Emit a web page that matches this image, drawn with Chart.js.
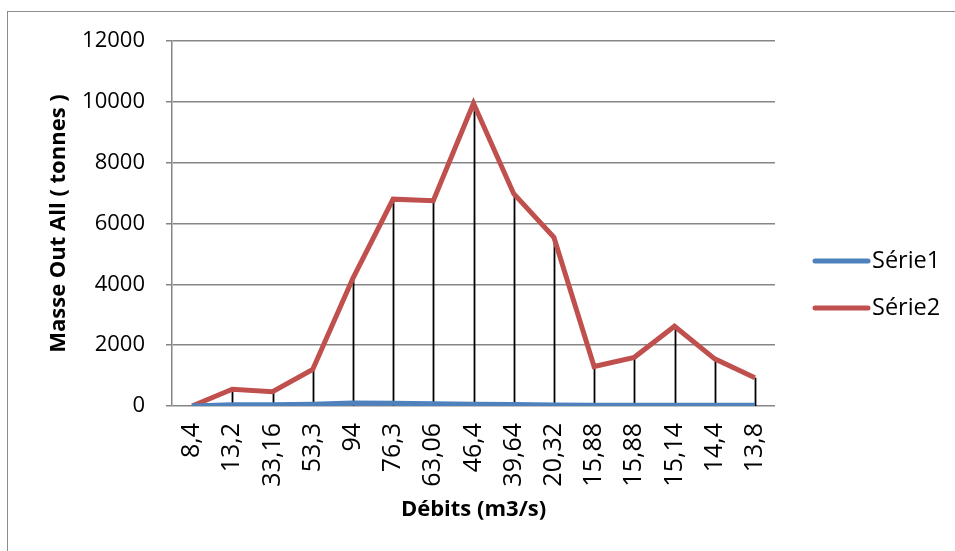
<!DOCTYPE html>
<html>
<head>
<meta charset="utf-8">
<script src="https://cdn.jsdelivr.net/npm/chart.js@4.4.1/dist/chart.umd.min.js"></script>
<style>
  html, body { margin: 0; padding: 0; background: #fff; }
  #wrap { position: relative; width: 955px; height: 551px; overflow: hidden; }
  #frame { position: absolute; left: 7px; top: 11px; width: 1100px; height: 700px; border: 1.5px solid #8c8c8c; box-sizing: border-box; }
  #mainChart { position: absolute; left: 0; top: 0; }
</style>
</head>
<body>
<div id="wrap">
  <div id="frame"></div>
  <canvas id="mainChart" width="955" height="551"></canvas>
</div>
<script>
const categories = ['8,4', '13,2', '33,16', '53,3', '94', '76,3', '63,06', '46,4', '39,64', '20,32', '15,88', '15,88', '15,14', '14,4', '13,8'];
const serie1 = [0, 40, 40, 60, 100, 90, 70, 60, 50, 30, 25, 25, 25, 25, 25];
const serie2 = [0, 550, 470, 1200, 4200, 6800, 6750, 9950, 6980, 5550, 1300, 1600, 2620, 1550, 930];
const seriesNames = ['Série1', 'Série2'];
const seriesColors = ['#4F81BD', '#C0504D'];
const yTitle = 'Masse Out All ( tonnes )';
const xTitle = 'Débits (m3/s)';

const FONT = "'Open Sans', 'Liberation Sans', sans-serif";

// Excel-style drop lines: from the highest point of each category down to the axis
const dropLines = {
    id: 'dropLines',
    beforeDatasetsDraw(chart) {
        const { ctx, scales: { x, y } } = chart;
        ctx.save();
        ctx.strokeStyle = '#000';
        ctx.lineWidth = 1.8;
        categories.forEach((c, i) => {
            const top = Math.max(serie1[i], serie2[i]);
            if (top <= 0) return;
            const px = Math.round(x.getPixelForValue(i)) + 0.5;
            ctx.beginPath();
            ctx.moveTo(px, y.getPixelForValue(top));
            ctx.lineTo(px, y.getPixelForValue(0));
            ctx.stroke();
        });
        ctx.restore();
    }
};

// Legend on the right, drawn like Excel's line samples
const sideLegend = {
    id: 'sideLegend',
    afterDraw(chart) {
        const ctx = chart.ctx;
        ctx.save();
        chart.data.datasets.forEach((ds, i) => {
            const yy = 261 + i * 47;
            ctx.strokeStyle = ds.borderColor;
            ctx.lineWidth = 5;
            ctx.lineCap = 'round';
            ctx.beginPath();
            ctx.moveTo(815, yy);
            ctx.lineTo(868, yy);
            ctx.stroke();
            ctx.fillStyle = '#000';
            ctx.font = `23.5px ${FONT}`;
            ctx.textBaseline = 'middle';
            ctx.fillText(ds.label, 872, yy);
        });
        ctx.restore();
    }
};

const ctx = document.getElementById('mainChart').getContext('2d');
new Chart(ctx, {
    type: 'line',
    data: {
        labels: categories,
        datasets: [serie1, serie2].map((d, i) => ({
            label: seriesNames[i],
            data: d,
            borderColor: seriesColors[i],
            backgroundColor: seriesColors[i],
            borderWidth: 5,
            pointRadius: 0,
            tension: 0,
            fill: false
        }))
    },
    options: {
        responsive: false,
        animation: false,
        layout: { padding: { top: 41, right: 180, bottom: 0, left: 0 } },
        plugins: {
            legend: { display: false },
            tooltip: { enabled: false }
        },
        scales: {
            x: {
                offset: true,
                grid: { display: false, drawTicks: false },
                border: { display: false },
                ticks: {
                    color: '#000',
                    font: { family: FONT, size: 25 },
                    minRotation: 90,
                    maxRotation: 90,
                    autoSkip: false,
                    padding: 17
                },
                title: {
                    display: true,
                    text: xTitle,
                    color: '#000',
                    font: { family: FONT, size: 22, weight: 'bold' },
                    padding: { top: 0, bottom: 28 }
                },
                afterFit: s => { s.height = 145; }
            },
            y: {
                min: 0,
                max: 12000,
                grid: { color: '#868686', lineWidth: 1.5, tickLength: 6 },
                border: { display: true, color: '#868686', width: 1.5 },
                ticks: {
                    stepSize: 2000,
                    color: '#000',
                    font: { family: FONT, size: 22 },
                    padding: 21,
                    callback: v => String(v)
                },
                title: {
                    display: true,
                    text: yTitle,
                    color: '#000',
                    font: { family: FONT, size: 22, weight: 'bold' },
                    padding: { top: 46, bottom: 0 }
                },
                afterFit: s => { s.width = 172; }
            }
        }
    },
    plugins: [dropLines, sideLegend]
});
</script>
</body>
</html>
